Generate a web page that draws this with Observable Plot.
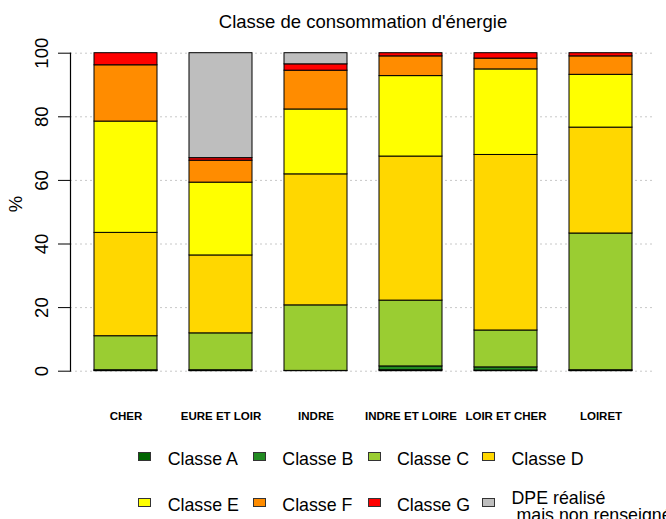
<!DOCTYPE html>
<html>
<head>
<meta charset="utf-8">
<script src="https://cdn.jsdelivr.net/npm/d3@7"></script>
<script src="https://cdn.jsdelivr.net/npm/@observablehq/plot@0.6"></script>
<style>
  body { margin: 0; background: #fff; font-family: "Liberation Sans", Arial, sans-serif; }
  #wrap { position: relative; width: 666px; height: 519px; overflow: hidden; background: #fff; }
  #title { position: absolute; left: 0; top: 0; width: 666px; padding-left: 60px; box-sizing: border-box;
           text-align: center; font-size: 18.5px; line-height: 44px; color: #000; }
  #chart { position: absolute; left: 0; top: 40px; }
  #chart svg { overflow: visible; }
  .sw { position: absolute; width: 11px; height: 7px; border: 1px solid #333; }
  .lt { position: absolute; font-size: 17.8px; line-height: 20px; white-space: pre; color: #000; }
</style>
</head>
<body>
<div id="wrap">
  <div id="title">Classe de consommation d'énergie</div>
  <div id="chart"></div>
  <div id="legend"></div>
</div>
<script>
// ---- data ----
const categories = ["CHER", "EURE ET LOIR", "INDRE", "INDRE ET LOIRE", "LOIR ET CHER", "LOIRET"];
const classes = ["Classe A", "Classe B", "Classe C", "Classe D", "Classe E", "Classe F", "Classe G", "DPE réalisé\n mais non renseigné"];
const classA = [0.1, 0.1, 0.0, 0.3, 0.2, 0.1];
const classB = [0.2, 0.2, 0.1, 1.2, 1.0, 0.2];
const classC = [10.7, 11.6, 20.6, 20.7, 11.6, 43.0];
const classD = [32.5, 24.5, 41.2, 45.3, 55.2, 33.3];
const classE = [35.0, 22.9, 20.4, 25.3, 26.9, 16.6];
const classF = [17.7, 6.9, 12.2, 6.2, 3.4, 5.8];
const classG = [3.8, 0.8, 2.0, 1.0, 1.7, 1.0];
const nonRenseigne = [0.0, 33.0, 3.5, 0.0, 0.0, 0.0];
const yTicks = [0, 20, 40, 60, 80, 100];
const yLabel = "%";
const colors = ["#006400", "#228B22", "#9ACD32", "#FFD700", "#FFFF00", "#FF8C00", "#FF0000", "#BEBEBE"];

const series = [classA, classB, classC, classD, classE, classF, classG, nonRenseigne];
const table = [];
categories.forEach((region, i) => {
  classes.forEach((classe, k) => table.push({region, classe, value: series[k][i]}));
});

const chart = Plot.plot({
  width: 666,
  height: 390,
  marginTop: 12.7,
  marginBottom: 59.3,
  marginLeft: 70,
  marginRight: 11,
  style: {fontFamily: "'Liberation Sans', Arial, sans-serif", background: "white", color: "black", overflow: "visible"},
  x: {domain: categories, range: [75.5, 650.5], paddingInner: 1 / 3, paddingOuter: 1 / 6, label: null},
  y: {domain: [0, 100], label: null},
  color: {domain: classes, range: colors},
  marks: [
    Plot.gridY(yTicks, {stroke: "#c8c8c8", strokeOpacity: 1, strokeDasharray: "2,3"}),
    Plot.barY(table, {x: "region", y: "value", fill: "classe", order: classes, stroke: "black", strokeWidth: 1}),
    Plot.frame({anchor: "left", strokeWidth: 1.2}),
    Plot.axisY(yTicks, {tickSize: 12, tickRotate: -90, tickPadding: 11, fontSize: 18.5, label: null}),
    Plot.text([yLabel], {frameAnchor: "left", dx: -54, rotate: -90, fontSize: 18.5, fill: "black"}),
    Plot.axisX({tickSize: 0, tickPadding: 41, fontSize: 11.5, fontWeight: "bold", label: null})
  ]
});
document.getElementById("chart").appendChild(chart);

// ---- legend ----
const legend = document.getElementById("legend");
classes.forEach((c, i) => {
  const col = i % 4, row = Math.floor(i / 4);
  const x = 138.3 + col * 114.6;
  const sw = document.createElement("div");
  sw.className = "sw";
  sw.style.left = x + "px";
  sw.style.top = (row === 0 ? 451.7 : 497.5) + "px";
  sw.style.background = colors[i];
  legend.appendChild(sw);
  const t = document.createElement("div");
  t.className = "lt";
  t.textContent = c;
  t.style.left = (x + 29.4) + "px";
  if (c.includes("\n")) {
    t.style.lineHeight = "17px";
    t.style.top = "489.6px";
  } else {
    t.style.top = (row === 0 ? 448.8 : 494.5) + "px";
  }
  legend.appendChild(t);
});
</script>
</body>
</html>
